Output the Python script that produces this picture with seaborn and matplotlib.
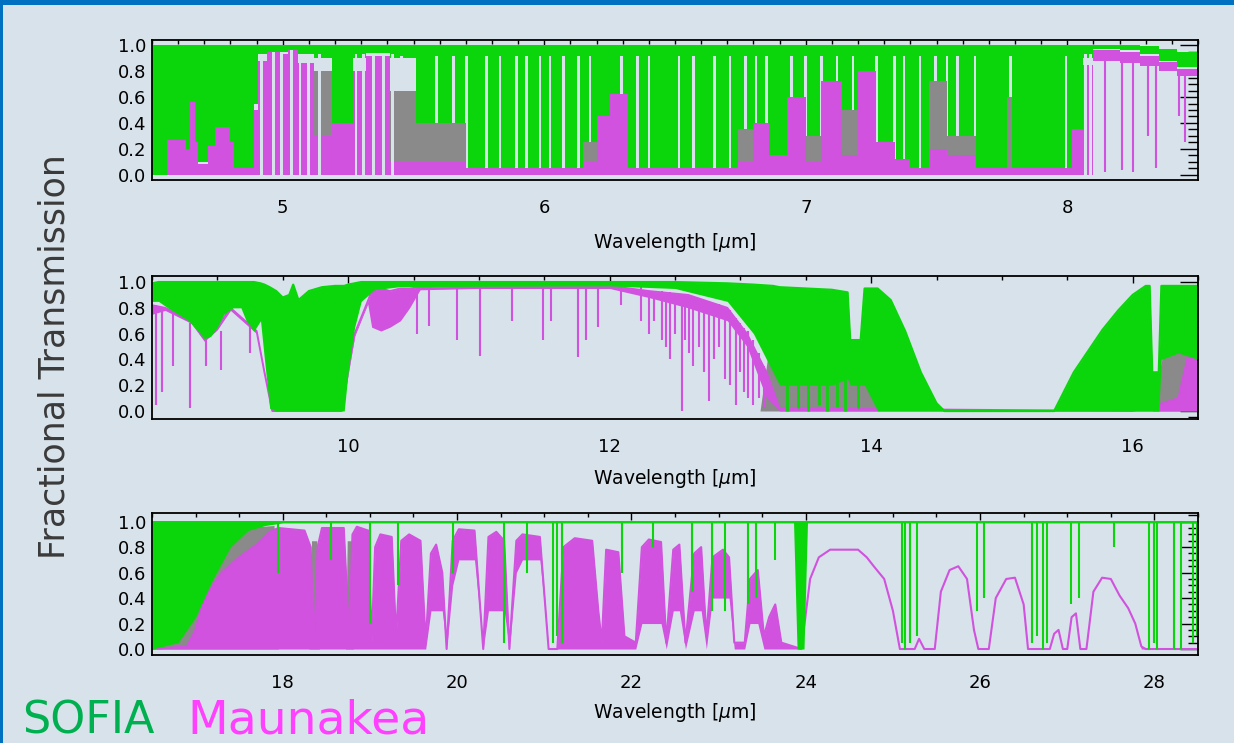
import numpy as np
import matplotlib
matplotlib.use("Agg")
import matplotlib.pyplot as plt
import seaborn as sns
from matplotlib.ticker import MultipleLocator, FormatStrFormatter
from matplotlib.patches import Rectangle

# ------------------------------------------------------------------ data
# Panel 1 (4.5 - 8.5 um): piecewise segments
p1_edges = [4.500, 4.556, 4.630, 4.645, 4.665, 4.675, 4.715, 4.740, 4.800, 4.815,
            4.890, 4.905, 4.940, 5.000, 5.020, 5.060, 5.120, 5.190, 5.270, 5.320,
            5.410, 5.510, 5.700, 6.150, 6.200, 6.250, 6.320, 6.740, 6.800, 6.860,
            6.930, 7.000, 7.060, 7.140, 7.200, 7.270, 7.340, 7.400, 7.470, 7.540,
            7.650, 7.770, 7.790, 8.020, 8.060, 8.100, 8.200, 8.280, 8.350, 8.420, 8.500]
p1_maunakea_top = [0.00, 0.27, 0.20, 0.56, 0.25, 0.08, 0.22, 0.37, 0.25, 0.05,
                   0.50, 0.88, 0.96, 0.93, 0.96, 0.86, 0.30, 0.40, 0.80, 0.92,
                   0.10, 0.10, 0.05, 0.10, 0.45, 0.62, 0.05, 0.10, 0.40, 0.15,
                   0.60, 0.10, 0.72, 0.15, 0.80, 0.25, 0.12, 0.05, 0.20, 0.15,
                   0.05, 0.05, 0.05, 0.35, 0.85, 0.96, 0.95, 0.92, 0.87, 0.82]
p1_maunakea_bot = [0.00] * 45 + [0.88, 0.86, 0.84, 0.80, 0.76]
p1_mixed_top = [0.00, 0.00, 0.00, 0.00, 0.12, 0.08, 0.00, 0.00, 0.00, 0.00,
                0.00, 0.00, 0.00, 0.00, 0.00, 0.00, 0.80, 0.00, 0.00, 0.00,
                0.65, 0.40, 0.00, 0.25, 0.35, 0.00, 0.00, 0.35, 0.20, 0.00,
                0.00, 0.30, 0.00, 0.50, 0.40, 0.00, 0.00, 0.00, 0.72, 0.30,
                0.00, 0.60, 0.00, 0.00, 0.00, 0.00, 0.00, 0.00, 0.00, 0.00]
p1_sofia_bot = [0.00, 0.27, 0.20, 0.56, 0.25, 0.10, 0.22, 0.37, 0.25, 0.05,
                0.55, 0.93, 0.95, 0.95, 0.96, 0.93, 0.90, 0.40, 0.90, 0.94,
                0.90, 0.40, 0.05, 0.25, 0.45, 0.62, 0.05, 0.35, 0.40, 0.15,
                0.60, 0.30, 0.72, 0.50, 0.80, 0.25, 0.12, 0.05, 0.72, 0.30,
                0.05, 0.60, 0.05, 0.35, 0.90, 0.97, 0.96, 0.93, 0.88, 0.83]
p1_sofia_top = [1.00] * 47 + [0.99, 0.97, 0.95]
p1_sofia_windows = [5.455, 5.589, 5.652, 5.703, 5.780, 5.831, 5.895, 5.933, 5.984, 6.022,
                    6.073, 6.130, 6.175, 6.296, 6.357, 6.400, 6.515, 6.570, 6.651, 6.710,
                    6.770, 6.810, 6.850, 6.946, 7.000, 7.060, 7.120, 7.180, 7.270, 7.340,
                    7.376, 7.437, 7.497, 7.540, 7.580, 7.647, 7.784, 7.995]
p1_clear_windows = [4.920, 4.964, 4.996, 5.034, 5.066, 5.098, 5.142, 5.280, 5.308, 5.346,
                    5.385, 5.420, 8.070, 8.090]
p1_mk_line_wl = [8.144, 8.208, 8.250, 8.310, 8.340, 8.426, 8.449]
p1_mk_line_lo = [0.02, 0.04, 0.02, 0.30, 0.05, 0.45, 0.25]
p1_mk_line_hi = [0.96, 0.95, 0.95, 0.92, 0.92, 0.82, 0.82]

# Panel 2 (8.5 - 16.5 um)
p2_sofia_wl = [8.50, 8.55, 8.62, 8.70, 8.78, 8.85, 8.90, 8.95, 9.00, 9.05,
               9.12, 9.18, 9.22, 9.28, 9.33, 9.36, 9.40, 9.45, 9.50, 9.55,
               9.58, 9.62, 9.70, 9.80, 9.90, 9.97, 10.00, 10.05, 10.10, 10.20,
               10.40, 12.00, 12.50, 12.90, 13.10, 13.25, 13.30, 13.50, 13.70, 13.82,
               13.84, 13.92, 13.95, 14.05, 14.15, 14.26, 14.38, 14.50, 14.56, 15.40,
               15.45, 15.55, 15.65, 15.77, 15.89, 16.00, 16.10, 16.13, 16.15, 16.20,
               16.22, 16.35, 16.50]
p2_sofia_top = [0.99, 1.00, 1.00, 1.00, 1.00, 1.00, 1.00, 1.00, 1.00, 1.00,
                1.00, 1.00, 1.00, 1.00, 0.99, 0.98, 0.96, 0.93, 0.88, 0.90,
                0.98, 0.86, 0.93, 0.96, 0.97, 0.97, 0.98, 0.99, 1.00, 1.00,
                1.00, 1.00, 1.00, 0.99, 0.98, 0.97, 0.96, 0.95, 0.94, 0.92,
                0.55, 0.55, 0.95, 0.95, 0.86, 0.62, 0.30, 0.06, 0.00, 0.00,
                0.10, 0.30, 0.45, 0.63, 0.78, 0.90, 0.97, 0.97, 0.30, 0.30,
                0.97, 0.97, 0.97]
p2_sofia_bot = [0.85, 0.85, 0.80, 0.75, 0.70, 0.62, 0.56, 0.58, 0.65, 0.75,
                0.80, 0.80, 0.70, 0.62, 0.70, 0.40, 0.02, 0.00, 0.00, 0.00,
                0.00, 0.00, 0.00, 0.00, 0.00, 0.00, 0.30, 0.65, 0.85, 0.94,
                0.965, 0.97, 0.95, 0.85, 0.60, 0.30, 0.20, 0.20, 0.20, 0.25,
                0.20, 0.20, 0.20, 0.00, 0.00, 0.00, 0.00, 0.00, 0.00, 0.00,
                0.00, 0.00, 0.00, 0.00, 0.00, 0.00, 0.00, 0.00, 0.00, 0.00,
                0.40, 0.45, 0.40]
p2_mk_wl = [8.50, 8.60, 8.80, 8.90, 9.00, 9.10, 9.30, 9.36, 9.42, 9.95,
            10.05, 10.15, 10.18, 10.25, 10.32, 10.40, 10.47, 10.55, 11.00, 12.00,
            12.30, 12.60, 12.90, 13.05, 13.20, 13.30, 16.00, 16.20, 16.35, 16.45, 16.50]
p2_mk_top = [0.82, 0.80, 0.70, 0.56, 0.65, 0.80, 0.62, 0.30, 0.00, 0.00,
             0.60, 0.85, 0.93, 0.95, 0.93, 0.95, 0.95, 0.96, 0.97, 0.97,
             0.93, 0.90, 0.80, 0.60, 0.30, 0.02, 0.00, 0.05, 0.10, 0.55, 0.60]
p2_mk_bot = [0.75, 0.78, 0.68, 0.54, 0.63, 0.78, 0.60, 0.28, 0.00, 0.00,
             0.58, 0.83, 0.65, 0.62, 0.65, 0.70, 0.80, 0.94, 0.95, 0.95,
             0.88, 0.80, 0.70, 0.50, 0.10, 0.00, 0.00, 0.00, 0.00, 0.00, 0.00]
p2_mk_line_wl = [8.53, 8.58, 8.66, 8.79, 8.91, 9.03, 9.25, 10.53, 10.62, 10.83,
                 11.01, 11.25, 11.49, 11.55, 11.76, 11.82, 11.91, 12.09, 12.24, 12.30,
                 12.34, 12.40, 12.43, 12.46, 12.50, 12.55, 12.58, 12.61, 12.64, 12.68,
                 12.72, 12.76, 12.80, 12.84, 12.88, 12.92, 12.97, 13.00, 13.03, 13.06,
                 13.10, 13.14, 13.18]
p2_mk_line_lo = [0.05, 0.15, 0.35, 0.02, 0.35, 0.32, 0.45, 0.60, 0.66, 0.55,
                 0.43, 0.70, 0.55, 0.70, 0.42, 0.55, 0.65, 0.82, 0.70, 0.60,
                 0.70, 0.55, 0.50, 0.40, 0.60, 0.00, 0.55, 0.45, 0.35, 0.50,
                 0.30, 0.08, 0.40, 0.50, 0.25, 0.20, 0.05, 0.30, 0.15, 0.10,
                 0.05, 0.10, 0.02]
p2_mk_line_hi = [0.82, 0.80, 0.75, 0.68, 0.56, 0.62, 0.65, 0.96, 0.96, 0.97,
                 0.97, 0.97, 0.97, 0.97, 0.97, 0.97, 0.97, 0.97, 0.96, 0.93,
                 0.93, 0.93, 0.92, 0.92, 0.91, 0.90, 0.90, 0.90, 0.88, 0.87,
                 0.86, 0.85, 0.84, 0.83, 0.80, 0.78, 0.72, 0.68, 0.64, 0.62,
                 0.55, 0.45, 0.35]
p2_mixed_wl = [13.15, 13.22, 13.30, 13.50, 13.70, 13.85, 13.95, 14.05, 16.15, 16.25,
               16.35, 16.45, 16.50]
p2_mixed_top = [0.00, 0.50, 0.45, 0.45, 0.42, 0.55, 0.40, 0.00, 0.00, 0.55,
                0.60, 0.55, 0.50]
p2_sofia_line_wl = [13.36, 13.44, 13.52, 13.60, 13.66, 13.74, 13.80, 13.90]
p2_sofia_line_lo = [0.00, 0.02, 0.00, 0.05, 0.00, 0.03, 0.00, 0.02]

# Panel 3 (16.5 - 28.5 um)
p3_sofia_wl = [16.50, 16.80, 17.00, 17.20, 17.40, 17.60, 17.80, 18.00, 23.86, 23.90,
               23.98, 24.02, 28.50]
p3_sofia_top = [1.00, 1.00, 1.00, 1.00, 1.00, 1.00, 1.00, 1.00, 1.00, 1.00,
                1.00, 1.00, 1.00]
p3_sofia_bot = [0.00, 0.05, 0.25, 0.55, 0.80, 0.93, 0.97, 0.99, 0.99, 0.00,
                0.00, 0.99, 0.99]
p3_sofia_line_wl = [17.95, 18.55, 19.00, 19.32, 19.95, 20.54, 20.80, 21.10, 21.15, 21.20,
                    21.89, 22.25, 22.70, 22.93, 23.07, 23.34, 23.43, 23.65, 25.10, 25.14,
                    25.20, 25.28, 25.96, 26.05, 26.59, 26.65, 26.72, 26.77, 27.04, 27.13,
                    27.54, 27.94, 28.00, 28.03, 28.22, 28.31, 28.44, 28.49]
p3_sofia_line_lo = [0.60, 0.70, 0.20, 0.50, 0.60, 0.05, 0.60, 0.05, 0.10, 0.05,
                    0.60, 0.80, 0.45, 0.30, 0.30, 0.35, 0.40, 0.70, 0.05, 0.00,
                    0.05, 0.10, 0.30, 0.40, 0.05, 0.10, 0.00, 0.05, 0.35, 0.40,
                    0.80, 0.00, 0.05, 0.00, 0.00, 0.00, 0.05, 0.10]
p3_mk_wl = [16.50, 16.90, 17.00, 17.10, 17.30, 17.50, 17.70, 17.85, 17.95, 18.25,
            18.32, 18.36, 18.40, 18.45, 18.70, 18.76, 18.80, 18.85, 18.98, 19.02,
            19.06, 19.12, 19.25, 19.30, 19.36, 19.45, 19.58, 19.64, 19.70, 19.76,
            19.83, 19.88, 19.95, 20.02, 20.20, 20.30, 20.36, 20.45, 20.54, 20.60,
            20.68, 20.75, 20.95, 21.05, 21.15, 21.22, 21.35, 21.55, 21.62, 21.66,
            21.71, 21.85, 21.92, 22.05, 22.12, 22.20, 22.34, 22.40, 22.48, 22.55,
            22.62, 22.72, 22.80, 22.86, 22.93, 23.05, 23.12, 23.18, 23.30, 23.36,
            23.45, 23.52, 23.58, 23.65, 23.72, 23.95, 24.05, 24.15, 24.28, 24.60,
            24.70, 24.78, 24.90, 25.00, 25.08, 25.25, 25.30, 25.36, 25.48, 25.55,
            25.65, 25.75, 25.85, 25.93, 25.98, 26.10, 26.18, 26.30, 26.40, 26.50,
            26.55, 26.80, 26.85, 26.90, 26.95, 27.00, 27.05, 27.10, 27.15, 27.22,
            27.30, 27.40, 27.50, 27.60, 27.70, 27.78, 27.85, 27.90, 28.50]
p3_mk_top = [0.00, 0.02, 0.15, 0.40, 0.60, 0.72, 0.82, 0.92, 0.95, 0.93,
             0.80, 0.05, 0.80, 0.95, 0.95, 0.10, 0.90, 0.96, 0.93, 0.05,
             0.80, 0.90, 0.88, 0.10, 0.85, 0.90, 0.85, 0.05, 0.75, 0.82,
             0.60, 0.00, 0.85, 0.94, 0.93, 0.00, 0.88, 0.92, 0.85, 0.00,
             0.85, 0.90, 0.88, 0.00, 0.00, 0.80, 0.87, 0.85, 0.30, 0.05,
             0.78, 0.76, 0.10, 0.05, 0.80, 0.86, 0.84, 0.05, 0.78, 0.82,
             0.05, 0.75, 0.80, 0.10, 0.72, 0.78, 0.72, 0.05, 0.05, 0.55,
             0.62, 0.10, 0.25, 0.35, 0.05, 0.00, 0.55, 0.72, 0.78, 0.78,
             0.72, 0.65, 0.55, 0.30, 0.00, 0.00, 0.08, 0.00, 0.00, 0.45,
             0.62, 0.65, 0.55, 0.15, 0.00, 0.00, 0.40, 0.55, 0.56, 0.35,
             0.00, 0.00, 0.12, 0.15, 0.00, 0.00, 0.25, 0.28, 0.00, 0.00,
             0.45, 0.56, 0.55, 0.42, 0.32, 0.20, 0.02, 0.00, 0.00]
p3_mk_bot = [0.00, 0.00, 0.00, 0.00, 0.00, 0.00, 0.00, 0.00, 0.00, 0.00,
             0.00, 0.00, 0.00, 0.00, 0.00, 0.00, 0.00, 0.00, 0.00, 0.00,
             0.00, 0.00, 0.00, 0.00, 0.00, 0.00, 0.00, 0.00, 0.30, 0.30,
             0.30, 0.00, 0.50, 0.70, 0.70, 0.00, 0.30, 0.30, 0.30, 0.00,
             0.60, 0.70, 0.70, 0.00, 0.00, 0.00, 0.00, 0.00, 0.00, 0.00,
             0.00, 0.00, 0.00, 0.00, 0.20, 0.20, 0.20, 0.00, 0.30, 0.30,
             0.00, 0.30, 0.30, 0.00, 0.40, 0.40, 0.40, 0.00, 0.00, 0.20,
             0.20, 0.00, 0.00, 0.00, 0.00, 0.00, 0.55, 0.72, 0.78, 0.78,
             0.72, 0.65, 0.55, 0.30, 0.00, 0.00, 0.08, 0.00, 0.00, 0.45,
             0.62, 0.65, 0.55, 0.15, 0.00, 0.00, 0.40, 0.55, 0.56, 0.35,
             0.00, 0.00, 0.12, 0.15, 0.00, 0.00, 0.25, 0.28, 0.00, 0.00,
             0.45, 0.56, 0.55, 0.42, 0.32, 0.20, 0.00, 0.00, 0.00]
p3_mixed_wl = [16.55, 16.70, 16.90, 17.10, 17.30, 17.50, 17.70, 17.90, 17.95, 18.30,
               18.33, 18.39, 18.42, 18.72, 18.74, 18.79, 18.81, 28.50]
p3_mixed_top = [0.00, 0.35, 0.55, 0.75, 0.88, 0.93, 0.96, 0.97, 0.00, 0.00,
                0.85, 0.85, 0.00, 0.00, 0.85, 0.85, 0.00, 0.00]

x_titles = ["Wavelength [$\\mu$m]"] * 3
y_title = "Fractional Transmission"
legend_names = ["SOFIA", "Maunakea"]

# ------------------------------------------------------------------ style
sns.set_theme(style="white")
plt.rcParams["font.family"] = ["DejaVu Sans"]
plt.rcParams["mathtext.fontset"] = "dejavusans"

BG = "#d8e2ea"
GREEN = "#0bd60b"
MAGENTA = "#d052de"
GRAY = "#8a8a8a"

fig = plt.figure(figsize=(12.34, 7.43), dpi=100, facecolor=BG)
W, H = 1234.0, 743.0


def add_axes(top_px, bot_px):
    return fig.add_axes([152 / W, 1 - bot_px / H, (1198 - 152) / W, (bot_px - top_px) / H])


def carve(edges, cols, windows, width, rules):
    edges = np.asarray(edges, float)
    w = np.asarray(windows, float)
    cuts = np.unique(np.clip(np.concatenate([edges, w - width / 2, w + width / 2]),
                             edges[0], edges[-1]))
    mids = 0.5 * (cuts[:-1] + cuts[1:])
    idx = np.clip(np.searchsorted(edges, mids, side="right") - 1, 0, len(edges) - 2)
    inside = (np.abs(mids[:, None] - w[None, :]) < width / 2).any(axis=1)
    out = {}
    for k, v in cols.items():
        a = np.asarray(v, float)[idx]
        if k in rules:
            mode, val = rules[k]
            a = np.where(inside, np.maximum(a, val) if mode == "max" else val, a)
        out[k] = a
    return cuts, out


def style(ax, xlim, ylim, major, minor, xlab, lab_y):
    ax.set_facecolor(BG)
    ax.set_xlim(*xlim)
    ax.set_ylim(*ylim)
    ax.set_axisbelow(True)
    ax.xaxis.set_major_locator(MultipleLocator(major))
    ax.xaxis.set_minor_locator(MultipleLocator(minor))
    ax.xaxis.set_major_formatter(FormatStrFormatter("%d"))
    ax.yaxis.set_major_locator(MultipleLocator(0.2))
    ax.yaxis.set_minor_locator(MultipleLocator(0.05))
    ax.yaxis.set_major_formatter(FormatStrFormatter("%.1f"))
    ax.tick_params(axis="both", which="both", direction="in", top=True, right=True,
                   colors="black", labelsize=13)
    ax.tick_params(axis="x", which="major", length=5, width=1, pad=14)
    ax.tick_params(axis="x", which="minor", length=3, width=1)
    ax.tick_params(axis="y", which="major", length=13, width=1, pad=4)
    ax.tick_params(axis="y", which="minor", length=7, width=1)
    for s in ax.spines.values():
        s.set_color("black")
        s.set_linewidth(1.3)
        s.set_zorder(5)
    ax.set_xlabel("")
    ax.set_ylabel("")
    ax.text(0.5, lab_y, xlab, transform=ax.transAxes, ha="center", va="center",
            fontsize=13.5, color="black")


# ------------------------------------------------------------------ panel 1
ax1 = add_axes(40, 180)
cols = {"mk": p1_maunakea_top, "mkb": p1_maunakea_bot, "mix": p1_mixed_top,
        "sb": p1_sofia_bot, "st": p1_sofia_top}
e1, c1 = carve(p1_edges, cols, p1_clear_windows, 0.011,
               {"mk": ("set", 0.0), "mix": ("set", 0.0), "sb": ("max", 0.93)})
e1, c1 = carve(e1, c1, p1_sofia_windows, 0.010, {"sb": ("max", 0.92)})
ax1.stairs(c1["mix"], e1, baseline=0, fill=True, color=GRAY, lw=0, zorder=1)
ax1.stairs(c1["mk"], e1, baseline=c1["mkb"], fill=True, color=MAGENTA, lw=0, zorder=2)
ax1.vlines(p1_mk_line_wl, p1_mk_line_lo, p1_mk_line_hi, color=MAGENTA, lw=1.5, zorder=2)
ax1.stairs(c1["st"], e1, baseline=c1["sb"], fill=True, color=GREEN, lw=0, zorder=3)
style(ax1, (4.5, 8.5), (-0.04, 1.04), 1, 0.1, x_titles[0], -(242 - 180) / 140)

# ------------------------------------------------------------------ panel 2
ax2 = add_axes(276, 419)
ax2.fill_between(p2_mixed_wl, 0, p2_mixed_top, color=GRAY, lw=0, zorder=1)
ax2.fill_between(p2_mk_wl, p2_mk_bot, p2_mk_top, color=MAGENTA, lw=0, zorder=2)
sns.lineplot(x=p2_mk_wl, y=p2_mk_top, ax=ax2, color=MAGENTA, lw=1.4,
             estimator=None, sort=False, legend=False, zorder=2)
ax2.vlines(p2_mk_line_wl, p2_mk_line_lo, p2_mk_line_hi, color=MAGENTA, lw=1.5, zorder=2)
ax2.fill_between(p2_sofia_wl, p2_sofia_bot, p2_sofia_top, color=GREEN, lw=0, zorder=3)
sns.lineplot(x=p2_sofia_wl, y=p2_sofia_top, ax=ax2, color=GREEN, lw=1.6,
             estimator=None, sort=False, legend=False, zorder=3)
ax2.vlines(p2_sofia_line_wl, p2_sofia_line_lo, [0.3] * len(p2_sofia_line_wl),
           color=GREEN, lw=2.0, zorder=3)
style(ax2, (8.5, 16.5), (-0.062, 1.047), 2, 0.5, x_titles[1], -(478 - 419) / 143)

# ------------------------------------------------------------------ panel 3
ax3 = add_axes(513, 655)
ax3.fill_between(p3_mixed_wl, 0, p3_mixed_top, color=GRAY, lw=0, zorder=1)
ax3.fill_between(p3_mk_wl, p3_mk_bot, p3_mk_top, color=MAGENTA, lw=0, zorder=2)
sns.lineplot(x=p3_mk_wl, y=p3_mk_top, ax=ax3, color=MAGENTA, lw=1.5,
             estimator=None, sort=False, legend=False, zorder=2)
ax3.fill_between(p3_sofia_wl, p3_sofia_bot, p3_sofia_top, color=GREEN, lw=0, zorder=3)
sns.lineplot(x=p3_sofia_wl, y=p3_sofia_top, ax=ax3, color=GREEN, lw=1.4,
             estimator=None, sort=False, legend=False, zorder=3)
ax3.vlines(p3_sofia_line_wl, p3_sofia_line_lo, [1.0] * len(p3_sofia_line_wl),
           color=GREEN, lw=1.5, zorder=3)
style(ax3, (16.5, 28.5), (-0.047, 1.068), 2, 0.5, x_titles[2], -(713 - 655) / 142)

# ------------------------------------------------------------------ texts & frame
fig.text(55 / W, 1 - 357 / H, y_title, rotation=90, ha="center", va="center",
         fontsize=25, color="#3a3a3a")
fig.text(22 / W, 1 - 733 / H, legend_names[0], ha="left", va="baseline",
         fontsize=32, color="#00b050")
fig.text(187 / W, 1 - 733 / H, legend_names[1], ha="left", va="baseline",
         fontsize=34, color="#ff40ff")
fig.patches.append(Rectangle((0, 1 - 5 / H), 1, 5 / H, transform=fig.transFigure,
                             color="#0070c0", lw=0, zorder=10))
fig.patches.append(Rectangle((0, 0), 3 / W, 1, transform=fig.transFigure,
                             color="#0070c0", lw=0, zorder=10))

fig.savefig("out.png", dpi=100, facecolor=BG)
